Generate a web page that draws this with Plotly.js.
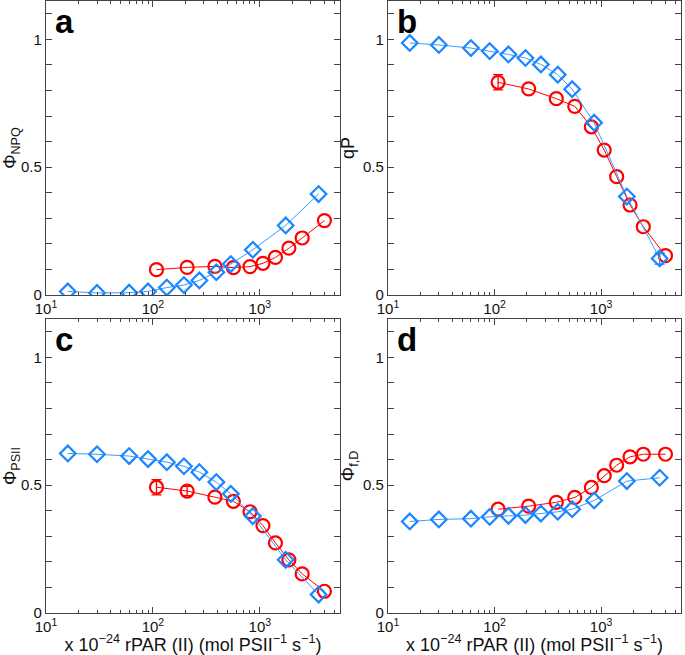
<!DOCTYPE html>
<html>
<head>
<meta charset="utf-8">
<script src="https://cdn.plot.ly/plotly-3.0.1.min.js"></script>
<style>html,body{margin:0;padding:0;background:#fff;}#chart{width:685px;height:655px;}</style>
</head>
<body>
<div id="chart"></div>
<script>
// x values (rPAR, x 1e-24 mol PSII^-1 s^-1)
const xBlue = [16, 30, 60, 90, 135, 195, 272, 392, 535, 860, 1745, 3545];
const xRed = [108, 209, 380, 566, 810, 1070, 1400, 1870, 2490, 4020];

// panel a: Phi_NPQ
const npqBlue = [0.014, 0.008, 0.009, 0.014, 0.029, 0.039, 0.057, 0.089, 0.121, 0.177, 0.272, 0.395];
const npqRed = [0.099, 0.108, 0.112, 0.107, 0.111, 0.124, 0.147, 0.183, 0.223, 0.291];
// panel b: qP
const qpBlue = [0.986, 0.978, 0.966, 0.954, 0.941, 0.927, 0.902, 0.862, 0.805, 0.674, 0.385, 0.143];
const qpRed = [0.832, 0.806, 0.768, 0.738, 0.658, 0.567, 0.463, 0.352, 0.267, 0.154];
// panel c: Phi_PSII
const psiiBlue = [0.624, 0.621, 0.614, 0.602, 0.590, 0.574, 0.551, 0.512, 0.466, 0.379, 0.208, 0.072];
const psiiRed = [0.492, 0.477, 0.453, 0.437, 0.396, 0.342, 0.274, 0.208, 0.153, 0.085];
// panel d: Phi_f,D
const fdBlue = [0.358, 0.366, 0.369, 0.376, 0.380, 0.383, 0.389, 0.396, 0.406, 0.440, 0.516, 0.529];
const fdRed = [0.406, 0.418, 0.433, 0.452, 0.491, 0.537, 0.578, 0.611, 0.621, 0.621];

// error bars (only those that extend beyond the markers are visible); null = none
const errRedA = [null, null, null, null, null, null, null, null, null, null];
const errRedB = [0.030, null, null, null, null, null, null, null, null, null];
const errRedC = [0.030, 0.018, null, null, null, null, null, null, null, null];
const errRedD = [null, null, null, null, null, null, null, null, null, null];
const errBlueB = [null, null, null, null, null, null, null, null, null, null, null, 0.022];
const errBlueN = [null, null, null, null, null, null, null, null, null, null, null, null];

const xMajor = [10, 100, 1000];
const xMajorText = ['10<sup>1</sup>', '10<sup>2</sup>', '10<sup>3</sup>'];
const xMinor = [20,30,40,50,60,70,80,90,200,300,400,500,600,700,800,900,2000,3000,4000,5000];
const yMajor = [0, 0.5, 1];
const yMajorText = ['0', '0.5', '1'];
const yMinor = [0.1,0.2,0.3,0.4,0.6,0.7,0.8,0.9,1.1];

const panelLetters = ['a','b','c','d'];
const yTitles = ['Φ<sub>NPQ</sub>', 'qP', 'Φ<sub>PSII</sub>', 'Φ<sub>f,D</sub>'];
const xTitle = 'x 10<sup>−24</sup> rPAR (II) (mol PSII<sup>−1</sup> s<sup>−1</sup>)';

const RED = '#ff0000';
const BLUE = '#1a86ff';
const BLUELINE = '#3d9bff';

const blueSets = [[npqBlue, errBlueN],[qpBlue, errBlueB],[psiiBlue, errBlueN],[fdBlue, errBlueN]];
const redSets = [[npqRed, errRedA],[qpRed, errRedB],[psiiRed, errRedC],[fdRed, errRedD]];

function pick(arr, err) { return arr.map((v, k) => err[k] == null ? null : v); }

const traces = [];
for (let i = 0; i < 4; i++) {
  const xa = i === 0 ? 'x' : 'x' + (i + 1);
  const ya = i === 0 ? 'y' : 'y' + (i + 1);
  // error bars drawn below markers
  traces.push({
    x: xRed, y: pick(redSets[i][0], redSets[i][1]), xaxis: xa, yaxis: ya, type: 'scatter', mode: 'markers',
    marker: {size: 1, color: 'rgba(0,0,0,0)'},
    error_y: {type: 'data', array: redSets[i][1].map(v => v == null ? 0 : v), visible: true, color: RED, thickness: 1.3, width: 5},
    showlegend: false, hoverinfo: 'skip'
  });
  traces.push({
    x: xRed, y: redSets[i][0], xaxis: xa, yaxis: ya, type: 'scatter', mode: 'lines+markers',
    line: {color: RED, width: 1},
    marker: {symbol: 'circle-open', size: 13, color: RED, line: {width: 2.2, color: RED}},
    showlegend: false, hoverinfo: 'skip'
  });
  traces.push({
    x: xBlue, y: pick(blueSets[i][0], blueSets[i][1]), xaxis: xa, yaxis: ya, type: 'scatter', mode: 'markers',
    marker: {size: 1, color: 'rgba(0,0,0,0)'},
    error_y: {type: 'data', array: blueSets[i][1].map(v => v == null ? 0 : v), visible: true, color: BLUE, thickness: 1.3, width: 5},
    showlegend: false, hoverinfo: 'skip'
  });
  traces.push({
    x: xBlue, y: blueSets[i][0], xaxis: xa, yaxis: ya, type: 'scatter', mode: 'lines+markers',
    line: {color: BLUELINE, width: 1},
    marker: {symbol: 'diamond-open', size: 12, color: BLUE, line: {width: 2.2, color: BLUE}},
    showlegend: false, hoverinfo: 'skip'
  });
}

const W = 685, H = 655;
const colDom = [[46 / W, 340 / W], [388 / W, 681 / W]];
const rowDom = [[(H - 295) / H, (H - 1) / H], [(H - 613) / H, (H - 319) / H]];
const FONT = 'Liberation Sans, Arial, Helvetica, sans-serif';
const AXCOL = '#444444';

function xAxis(col, row) {
  const ax = {
    type: 'log', range: [1, 3.75], domain: colDom[col],
    anchor: row === 0 ? (col === 0 ? 'y' : 'y2') : (col === 0 ? 'y3' : 'y4'),
    tickmode: 'array', tickvals: xMajor, ticktext: xMajorText,
    ticks: 'inside', ticklen: 6, tickwidth: 1, tickcolor: AXCOL,
    minor: {tickmode: 'array', tickvals: xMinor, ticks: 'inside', ticklen: 3, tickwidth: 1, tickcolor: AXCOL},
    showline: true, linecolor: AXCOL, linewidth: 1.2, mirror: 'ticks',
    showgrid: false, zeroline: false,
    tickfont: {family: FONT, size: 15, color: '#111'},
    fixedrange: true
  };
  if (row === 1) {
    ax.title = {text: xTitle, font: {family: FONT, size: 18, color: '#111'}, standoff: 4};
  }
  return ax;
}
function yAxis(col, row, idx) {
  return {
    range: [0, 1.15], domain: rowDom[row],
    anchor: idx === 0 ? 'x' : 'x' + (idx + 1),
    tickmode: 'array', tickvals: yMajor, ticktext: yMajorText,
    ticks: 'inside', ticklen: 6, tickwidth: 1, tickcolor: AXCOL,
    minor: {tickmode: 'array', tickvals: yMinor, ticks: 'inside', ticklen: 6, tickwidth: 1, tickcolor: AXCOL},
    showline: true, linecolor: AXCOL, linewidth: 1.2, mirror: 'ticks',
    showgrid: false, zeroline: false,
    tickfont: {family: FONT, size: 15, color: '#111'},
    title: {text: yTitles[idx], font: {family: FONT, size: 18, color: '#111'}, standoff: 3},
    fixedrange: true
  };
}

const annotations = [];
for (let i = 0; i < 4; i++) {
  const xa = i === 0 ? 'x' : 'x' + (i + 1);
  const ya = i === 0 ? 'y' : 'y' + (i + 1);
  annotations.push({
    text: '<b>' + panelLetters[i] + '</b>', xref: xa + ' domain', yref: ya + ' domain',
    x: 0.025, y: 1.0, xanchor: 'left', yanchor: 'top', showarrow: false,
    font: {family: FONT, size: 33, color: '#000'}
  });
}

const layout = {
  width: W, height: H,
  margin: {l: 0, r: 0, t: 0, b: 0},
  paper_bgcolor: '#fff', plot_bgcolor: '#fff',
  showlegend: false,
  xaxis: xAxis(0, 0), xaxis2: xAxis(1, 0), xaxis3: xAxis(0, 1), xaxis4: xAxis(1, 1),
  yaxis: yAxis(0, 0, 0), yaxis2: yAxis(1, 0, 1), yaxis3: yAxis(0, 1, 2), yaxis4: yAxis(1, 1, 3),
  annotations: annotations
};

Plotly.newPlot('chart', traces, layout, {displayModeBar: false, staticPlot: true});
</script>
</body>
</html>
